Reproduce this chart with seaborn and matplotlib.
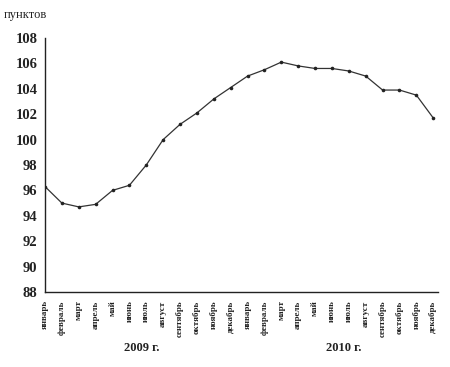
import numpy as np
import pandas as pd
import matplotlib
matplotlib.use("Agg")
import matplotlib.pyplot as plt
import matplotlib.transforms as mtransforms
import seaborn as sns

# ==============================
# Данные
# ==============================
months = ["январь", "февраль", "март", "апрель", "май", "июнь", "июль",
          "август", "сентябрь", "октябрь", "ноябрь", "декабрь"]
month_labels = months + months
years = ["2009 г.", "2010 г."]
values = [96.3, 95.0, 94.7, 94.9, 96.0, 96.4, 98.0, 100.0, 101.2, 102.1, 103.2, 104.1,
          105.0, 105.5, 106.1, 105.8, 105.6, 105.6, 105.4, 105.0, 103.9, 103.9, 103.5, 101.7]

df = pd.DataFrame({"idx": np.arange(len(values)), "value": values})

# ==============================
# Оформление
# ==============================
sns.set_theme(style="white")
plt.rcParams["font.family"] = ["Liberation Serif", "DejaVu Serif"]

fig = plt.figure(figsize=(4.5, 3.67), dpi=100)
ax = fig.add_axes([0.1, 0.2044, 0.8733, 0.6921])

sns.lineplot(data=df, x="idx", y="value", ax=ax, color="#333333", linewidth=0.9,
             marker="o", markersize=2.6, markeredgewidth=0, markerfacecolor="#222222")

ax.set_xlim(0.23, 23.28)
ax.set_ylim(88, 108)
ax.set_yticks(np.arange(88, 109, 2))
ax.set_yticklabels([str(v) for v in range(88, 109, 2)], fontsize=10.5, fontweight="bold")
ax.set_xticks(np.arange(len(values)))
ax.set_xticklabels(month_labels, rotation=90, fontsize=6.5, fontweight="bold", va="top")
ax.tick_params(axis="x", direction="in", length=3, width=0.8, pad=6, colors="#222222")
ax.tick_params(axis="y", direction="out", length=2.5, width=0.8, pad=3, colors="#222222")
ax.set_xlabel("")
ax.set_ylabel("")

for side in ["top", "right"]:
    ax.spines[side].set_visible(False)
for side in ["left", "bottom"]:
    ax.spines[side].set_color("#222222")
    ax.spines[side].set_linewidth(1.0)

# подписи годов
trans = mtransforms.blended_transform_factory(ax.transData, ax.transAxes)
ax.text(5.7, -0.22, years[0], transform=trans, ha="center", va="center",
        fontsize=9, fontweight="bold", color="#222222")
ax.text(17.7, -0.22, years[1], transform=trans, ha="center", va="center",
        fontsize=9, fontweight="bold", color="#222222")

fig.text(0.008, 0.958, "пунктов", ha="left", va="center", fontsize=9, color="#222222")

fig.savefig("out.png", dpi=100, facecolor="white")
